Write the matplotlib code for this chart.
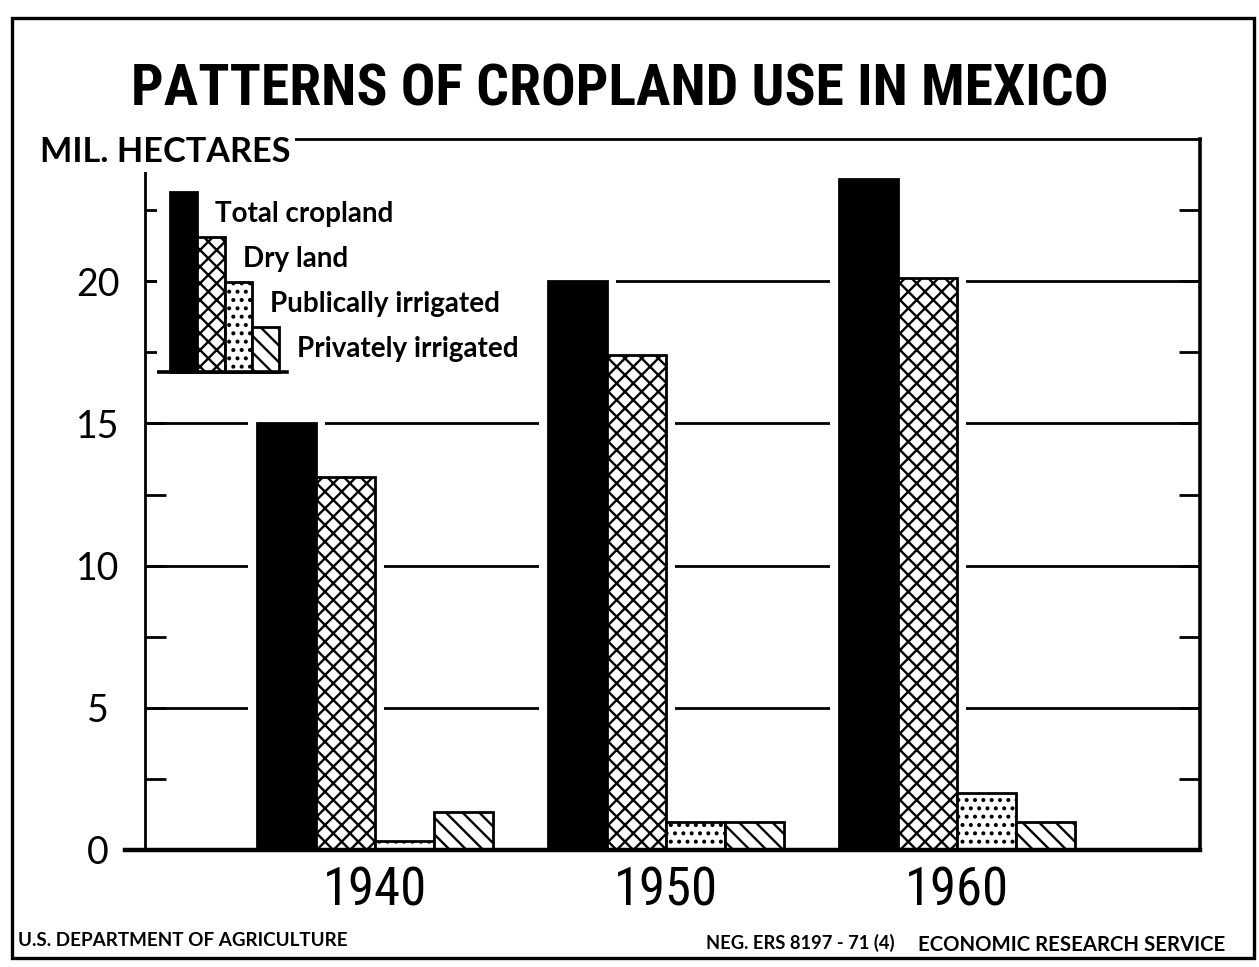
import matplotlib
matplotlib.use('Agg')
import matplotlib.pyplot as plt
from matplotlib import font_manager as fm
from matplotlib.patches import Rectangle
import numpy as np

# ---------------- data ----------------
years = ['1940', '1950', '1960']
series_names = ['Total cropland', 'Dry land', 'Publically irrigated', 'Privately irrigated']
total_cropland = [15.0, 20.0, 23.6]
dry_land = [13.1, 17.4, 20.1]
public_irrigated = [0.3, 1.0, 2.0]
private_irrigated = [1.35, 1.0, 1.0]
legend_steps = [4, 3, 2, 1]
y_ticks = [0, 5, 10, 15, 20]
y_tick_labels = ['0', '5', '10', '15', '20']

# ---------------- fonts ----------------
W, H = 1259, 967
plt.rcParams['hatch.linewidth'] = 1.7
plt.rcParams['hatch.color'] = 'black'

available = {f.name for f in fm.fontManager.ttflist}
cond_fams = sorted({f.name for f in fm.fontManager.ttflist
                    if str(f.stretch) in ('condensed', 'semi-condensed',
                                          'extra-condensed', 'ultra-condensed')})


def pick(cands, default='DejaVu Sans'):
    for c in cands:
        if c in available:
            return c
    return default


COND = pick(['Liberation Sans Narrow', 'DejaVu Sans Condensed', 'Roboto Condensed',
             'Open Sans Condensed', 'Noto Sans Condensed'] + cond_fams)
GEO = pick(['Lato', 'Roboto', 'Open Sans', 'Noto Sans'])

fig = plt.figure(figsize=(W / 100, H / 100), dpi=100)
fig.patch.set_facecolor('white')
renderer = fig.canvas.get_renderer()


def fit(t, target):
    bb = t.get_window_extent(renderer)
    t.set_fontsize(t.get_fontsize() * target / bb.width)


def fx(px):
    return px / W


def fy(py):
    return 1 - py / H


# ---------------- main axes ----------------
ax_l, ax_r, ax_t, ax_b = 145, 1200, 139, 850
ax = fig.add_axes([fx(ax_l), fy(ax_b), (ax_r - ax_l) / W, (ax_b - ax_t) / H])

x = np.arange(len(years))
group_px = 291.0
w = 59.0 / group_px
offsets = (np.arange(4) - 1.5) * w
data = [total_cropland, dry_land, public_irrigated, private_irrigated]
faces = ['black', 'white', 'white', 'white']
hatches = [None, 'xx', '..', '\\\\']

# white halos around the bars (gaps in grid lines)
hpad = 9.0 / group_px
vpad = 0.3
for vals, off in zip(data, offsets):
    ax.bar(x + off, np.array(vals) + vpad, width=w + 2 * hpad, color='white',
           linewidth=0, zorder=2)
for vals, off, fc, hat in zip(data, offsets, faces, hatches):
    ax.bar(x + off, vals, width=w, facecolor=fc, edgecolor='black',
           hatch=hat, linewidth=2.0, zorder=3)

ax.set_xlim(-(375 - ax_l) / group_px, 2 + (ax_r - 957) / group_px)
ax.set_ylim(0, 25)

ax.set_yticks(y_ticks)
ax.set_yticklabels(y_tick_labels, fontfamily=GEO, fontsize=27, ha='center')
ax.set_yticks(np.arange(2.5, 25, 5), minor=True)
ax.tick_params(axis='y', which='both', direction='in', length=15, width=2,
               left=True, right=True, pad=34)
ax.yaxis.grid(True, which='major', color='black', linewidth=2)
ax.set_axisbelow(True)

ax.set_xticks(x)
ax.set_xticklabels(years, fontfamily=COND, fontstretch='condensed', fontsize=38)
ax.tick_params(axis='x', length=0, pad=11)

for side, lw in [('left', 2.0), ('top', 2.0), ('right', 2.6)]:
    ax.spines[side].set_linewidth(lw)
ax.spines['bottom'].set_visible(False)
ax.axhline(0, xmin=-(ax_l - 125) / (ax_r - ax_l), xmax=1.0, color='black',
           linewidth=3.2, clip_on=False, zorder=4)

# ---------------- legend (mini staircase bar chart) ----------------
lg_l, lg_r, lg_t, lg_b = 157, 545, 172, 380
lax = fig.add_axes([fx(lg_l), fy(lg_b), (lg_r - lg_l) / W, (lg_b - lg_t) / H])
lax.set_facecolor('white')
unit_x = 27.25
unit_y = 45.0
lx = np.arange(len(series_names))
leg_texts = []
for i, (name, h, fc, hat) in enumerate(zip(series_names, legend_steps, faces, hatches)):
    lax.bar(lx[i], h, width=1.0, facecolor=fc, edgecolor='black', hatch=hat,
            linewidth=2.0, zorder=3)
    t = lax.annotate(name, xy=(lx[i] + 0.5, h), xytext=(13, -16),
                     textcoords='offset points', ha='left', va='center',
                     fontfamily=GEO, fontweight='bold', fontsize=20)
    leg_texts.append(t)
lx0 = -0.5 - (170 - lg_l) / unit_x
lax.set_xlim(lx0, lx0 + (lg_r - lg_l) / unit_x)
ly0 = -(lg_b - 372) / unit_y
lax.set_ylim(ly0, ly0 + (lg_b - lg_t) / unit_y)
lax.axhline(0, xmin=0, xmax=(287 - lg_l) / (lg_r - lg_l), color='black',
            linewidth=2.6, zorder=4)
for s in lax.spines.values():
    s.set_visible(False)
lax.set_xticks([])
lax.set_yticks([])

# ---------------- texts ----------------
title = fig.text(fx(620), fy(106), 'PATTERNS OF CROPLAND USE IN MEXICO',
                 ha='center', va='baseline', fontfamily=COND,
                 fontstretch='condensed', fontweight='bold', fontsize=50)
fit(title, 980)

ylab = fig.text(fx(40), fy(162), 'MIL. HECTARES', ha='left', va='baseline',
                fontfamily=GEO, fontweight='bold', fontsize=24, zorder=10,
                bbox=dict(facecolor='white', edgecolor='none', pad=3))
fit(ylab, 250)

b1 = fig.text(fx(18), fy(946), 'U.S. DEPARTMENT OF AGRICULTURE', ha='left',
              va='baseline', fontfamily=GEO, fontweight='bold', fontsize=11)
fit(b1, 330)
b2 = fig.text(fx(706), fy(949), 'NEG. ERS 8197 - 71 (4)', ha='left',
              va='baseline', fontfamily=GEO, fontweight='bold', fontsize=11)
fit(b2, 189)
b3 = fig.text(fx(918), fy(951), 'ECONOMIC RESEARCH SERVICE', ha='left',
              va='baseline', fontfamily=GEO, fontweight='bold', fontsize=11)
fit(b3, 307)

# outer frame
fig.add_artist(Rectangle((fx(12), fy(958)), (1254 - 12) / W, (958 - 18) / H,
                         transform=fig.transFigure, fill=False,
                         edgecolor='black', linewidth=2.4))

fig.savefig('out.png', dpi=100, facecolor='white')
